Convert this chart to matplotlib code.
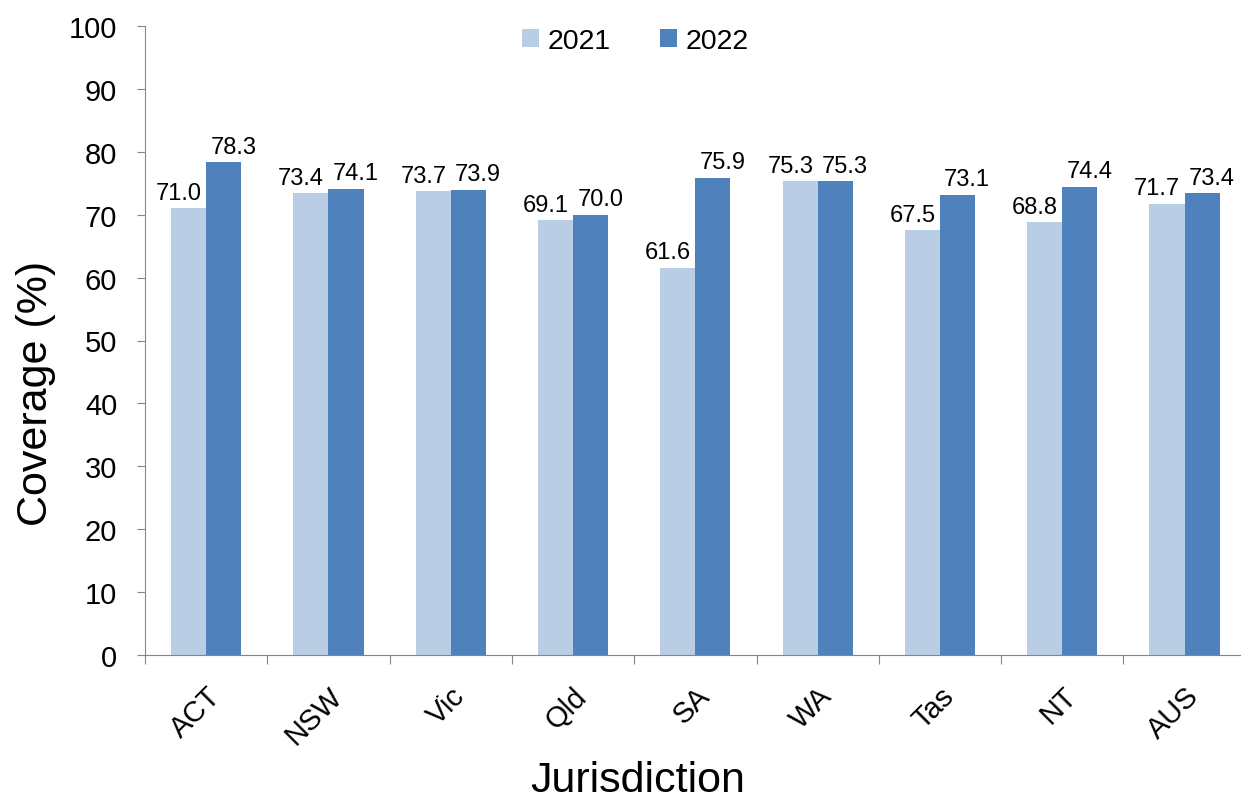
import matplotlib
matplotlib.use("Agg")
import matplotlib.pyplot as plt
import matplotlib.transforms as mtransforms
import numpy as np

plt.rcParams["font.family"] = ["Liberation Sans", "DejaVu Sans"]

jurisdictions = ["ACT", "NSW", "Vic", "Qld", "SA", "WA", "Tas", "NT", "AUS"]
cov2021 = [71.0, 73.4, 73.7, 69.1, 61.6, 75.3, 67.5, 68.8, 71.7]
cov2022 = [78.3, 74.1, 73.9, 70.0, 75.9, 75.3, 73.1, 74.4, 73.4]

color21 = "#B9CDE5"
color22 = "#4F81BD"
axisGrey = "#868686"

fig = plt.figure(figsize=(12.41, 8.03), dpi=100)
ax = fig.add_axes([145 / 1241, 147 / 803, 1100.7 / 1241, 629 / 803])

x = np.arange(len(jurisdictions))
w = 0.287
bars21 = ax.bar(x - w / 2, cov2021, width=w, color=color21, label="2021")
bars22 = ax.bar(x + w / 2, cov2022, width=w, color=color22, label="2022")

# labels nudged apart sideways so the pairs do not collide
for bars, vals, dx in [(bars21, cov2021, -7), (bars22, cov2022, 7)]:
    for b, v in zip(bars, vals):
        ax.annotate(f"{v:.1f}", (b.get_x() + b.get_width() / 2, v),
                    xytext=(dx, 7), textcoords="offset points",
                    ha="center", va="baseline", fontsize=17)

ax.set_xlim(-0.5, len(jurisdictions) - 0.5)
ax.set_ylim(0, 100)
ax.set_yticks(np.arange(0, 101, 10))

# category ticks at boundaries, labels at centres
ax.set_xticks(np.arange(-0.5, len(jurisdictions), 1))
ax.set_xticklabels([])
ax.set_xticks(x, minor=True)
ax.set_xticklabels(jurisdictions, minor=True, rotation=45, ha="right", va="top",
                   rotation_mode="anchor", fontsize=21)
shift = mtransforms.ScaledTranslation(-4 / 100, 0, fig.dpi_scale_trans)
for lbl in ax.get_xticklabels(minor=True):
    lbl.set_transform(lbl.get_transform() + shift)
ax.tick_params(axis="x", which="minor", length=0, pad=19)
ax.tick_params(axis="x", which="major", length=6.5, color=axisGrey)
ax.tick_params(axis="y", labelsize=21, length=6, color=axisGrey, pad=14)

for s in ["top", "right"]:
    ax.spines[s].set_visible(False)
for s in ["left", "bottom"]:
    ax.spines[s].set_color(axisGrey)

ax.set_ylabel("Coverage (%)", fontsize=31, labelpad=9, y=0.417)
ax.set_xlabel("Jurisdiction", fontsize=31, labelpad=8, x=0.448)

fig.legend(handles=[bars21, bars22], labels=["2021", "2022"], loc="center",
           bbox_to_anchor=(0.512, 1 - 42 / 803), ncol=2, frameon=False,
           fontsize=20.5, handlelength=0.6, handleheight=0.6, columnspacing=1.75,
           handletextpad=0.28)

plt.savefig("out.png", dpi=100)
